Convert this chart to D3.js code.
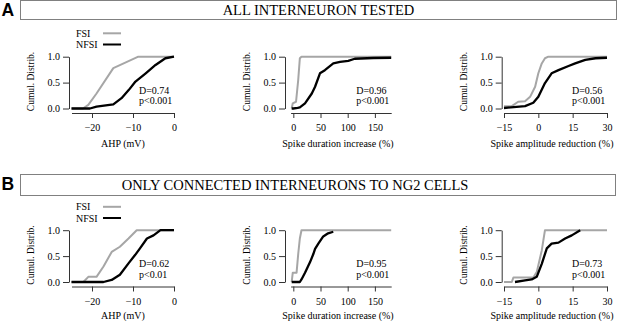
<!DOCTYPE html>
<html><head><meta charset="utf-8">
<script src="https://cdn.jsdelivr.net/npm/d3@7"></script>
<style>
html,body{margin:0;padding:0;background:#fff;}
svg{display:block;}
text{font-family:"Liberation Serif","Times New Roman",serif;}
</style></head>
<body><svg id="c" width="617" height="321"></svg>
<script>
// ---------- DATA ----------
const panelLetters = ["A", "B"];
const panelTitles = ["ALL INTERNEURON TESTED", "ONLY CONNECTED INTERNEURONS TO NG2 CELLS"];
const seriesNames = ["FSI", "NFSI"];
const xTitles = ["AHP (mV)", "Spike duration increase (%)", "Spike amplitude reduction (%)"];
const yTitle = "Cumul. Distrib.";
const xTicks1 = [-20, -10, 0];
const xTicks2 = [0, 50, 100, 150];
const xTicks3 = [-15, 0, 15, 30];
const yTicks = [0, 0.5, 1];

// Panel A
const A_ahp_fsi_x  = [-25, -22.2, -20.9, -18.9, -14.8, -8.7, 0];
const A_ahp_fsi_y  = [0, 0, 0.07, 0.29, 0.78, 1, 1];
const A_ahp_nfsi_x = [-25, -20.5, -18.9, -14.8, -12.8, -11, -9.4, -6.9, -4.5, -2.1, 0];
const A_ahp_nfsi_y = [0, 0, 0.035, 0.08, 0.2, 0.36, 0.52, 0.68, 0.84, 0.97, 1];
const A_dur_fsi_x  = [-3, -1, 5, 9, 12, 15, 180];
const A_dur_fsi_y  = [0, 0.1, 0.13, 0.55, 0.97, 1, 1];
const A_dur_nfsi_x = [-3, 0, 8, 12, 21.5, 34, 40, 49, 58, 73.5, 86, 101, 113, 147, 180];
const A_dur_nfsi_y = [0, 0, 0.01, 0.02, 0.1, 0.29, 0.42, 0.68, 0.74, 0.87, 0.9, 0.92, 0.96, 0.975, 0.98];
const A_amp_fsi_x  = [-15, -11.6, -8.8, -5.8, -3.6, -1.4, 0, 1.5, 2.9, 4.4, 30];
const A_amp_fsi_y  = [0.045, 0.045, 0.13, 0.14, 0.225, 0.42, 0.68, 0.87, 0.97, 1, 1];
const A_amp_nfsi_x = [-15, -5.8, -2.2, 0, 2.9, 5.8, 8.8, 13.2, 16.1, 20.5, 25, 30];
const A_amp_nfsi_y = [0.01, 0.045, 0.11, 0.225, 0.49, 0.68, 0.74, 0.82, 0.87, 0.94, 0.97, 0.98];
const A_stats = [["D=0.74", "p<0.001"], ["D=0.96", "p<0.001"], ["D=0.56", "p<0.001"]];

// Panel B
const B_ahp_fsi_x  = [-25, -22.1, -20.9, -18.9, -17.2, -15.2, -13.2, -11.1, -9.1, 0];
const B_ahp_fsi_y  = [0, 0, 0.1, 0.1, 0.3, 0.58, 0.68, 0.84, 1, 1];
const B_ahp_nfsi_x = [-25, -17.2, -15.2, -13.2, -11.1, -9.5, -8.3, -6.6, -5, -3.3, 0];
const B_ahp_nfsi_y = [0, 0, 0.04, 0.14, 0.36, 0.52, 0.65, 0.84, 0.9, 1, 1];
const B_dur_fsi_x  = [-3, -1, 6, 9, 12, 15, 180];
const B_dur_fsi_y  = [0, 0.18, 0.18, 0.54, 0.84, 1, 1];
const B_dur_nfsi_x = [-3, 12, 15, 21.5, 30.6, 36.8, 40, 46, 55, 64, 73.5];
const B_dur_nfsi_y = [0, 0, 0.05, 0.18, 0.38, 0.54, 0.64, 0.74, 0.88, 0.94, 0.97];
const B_amp_fsi_x  = [-15, -11.6, -10.9, -2.2, -0.7, 1.5, 2.9, 30];
const B_amp_fsi_y  = [0, 0, 0.085, 0.085, 0.19, 0.61, 1, 1];
const B_amp_nfsi_x = [-10.2, -5.8, -2.9, -0.7, 1.5, 3.7, 5.8, 8.8, 11.7, 14.6, 18.3];
const B_amp_nfsi_y = [0, 0.03, 0.05, 0.1, 0.35, 0.65, 0.74, 0.76, 0.84, 0.9, 1];
const B_stats = [["D=0.62", "p<0.01"], ["D=0.95", "p<0.001"], ["D=0.73", "p<0.001"]];

// ---------- LAYOUT ----------
const svg = d3.select("#c");
const SERIF = "'Liberation Serif','Times New Roman',serif";
const GRAY = "#a6a6a6", BLACK = "#000";
const chartCfg = [
  {xDomain: [-25, 0], xRange: [71.5, 174], ticks: xTicks1, yAxisX: 69, xTitleX: 123},
  {xDomain: [-5, 180], xRange: [290.6, 391.2], ticks: xTicks2, yAxisX: 285, xTitleX: 338},
  {xDomain: [-15, 30], xRange: [504, 607], ticks: xTicks3, yAxisX: 501.7, xTitleX: 552}
];
const panels = [
  {dy: 0, titleDy: 0, box: [20.5, 0.5, 596, 19], titleX: 318.5, titleY: 14.8, letterY: 15.5,
   series: [[A_ahp_fsi_x, A_ahp_fsi_y, A_ahp_nfsi_x, A_ahp_nfsi_y],
            [A_dur_fsi_x, A_dur_fsi_y, A_dur_nfsi_x, A_dur_nfsi_y],
            [A_amp_fsi_x, A_amp_fsi_y, A_amp_nfsi_x, A_amp_nfsi_y]], stats: A_stats},
  {dy: 173.5, titleDy: 171.7, box: [20.5, 174.5, 595, 21], titleX: 295, titleY: 189.8, letterY: 190,
   series: [[B_ahp_fsi_x, B_ahp_fsi_y, B_ahp_nfsi_x, B_ahp_nfsi_y],
            [B_dur_fsi_x, B_dur_fsi_y, B_dur_nfsi_x, B_dur_nfsi_y],
            [B_amp_fsi_x, B_amp_fsi_y, B_amp_nfsi_x, B_amp_nfsi_y]], stats: B_stats}
];

panels.forEach((p, pi) => {
  // header box
  svg.append("rect").attr("x", p.box[0]).attr("y", p.box[1]).attr("width", p.box[2]).attr("height", p.box[3])
    .attr("fill", "none").attr("stroke", "#808080").attr("stroke-width", 1);
  svg.append("text").attr("x", p.titleX).attr("y", p.titleY).attr("text-anchor", "middle")
    .attr("font-size", 14.5).attr("fill", "#000").style("font-family", SERIF).text(panelTitles[pi]);
  svg.append("text").attr("x", 1.5).attr("y", p.letterY)
    .style("font-family", "'Liberation Sans',Arial,sans-serif").attr("font-weight", "bold")
    .attr("font-size", 17.5).attr("fill", "#000").text(panelLetters[pi]);

  const dy = p.dy;
  const y = d3.scaleLinear().domain([0, 1]).range([108.5 + dy, 56.7 + dy]);

  chartCfg.forEach((c, ci) => {
    const x = d3.scaleLinear().domain(c.xDomain).range(c.xRange);
    const g = svg.append("g");
    // x axis
    const xa = g.append("g").attr("transform", `translate(0,${113 + dy})`)
      .call(d3.axisBottom(x).tickValues(c.ticks).tickSize(5).tickSizeOuter(0).tickPadding(6.2).tickFormat(d3.format("d")));
    // y axis
    const ya = g.append("g").attr("transform", `translate(${c.yAxisX},0)`)
      .call(d3.axisLeft(y).tickValues(yTicks).tickSize(6).tickSizeOuter(0).tickPadding(3).tickFormat(d3.format(".1f")));
    [xa, ya].forEach(a => {
      a.attr("font-family", null).style("font-family", SERIF);
      a.select(".domain").attr("stroke", "#333");
      a.selectAll(".tick line").attr("stroke", "#333");
      a.selectAll(".tick text").attr("font-size", 10).attr("fill", "#000").style("font-family", SERIF);
    });
    // titles
    g.append("text").attr("x", c.xTitleX).attr("y", 147.3 + p.titleDy).attr("text-anchor", "middle")
      .attr("font-size", 10).style("font-family", SERIF).text(xTitles[ci]);
    g.append("text").attr("transform", `translate(${c.yAxisX - 35},${81.5 + dy}) rotate(-90)`)
      .attr("text-anchor", "middle").attr("font-size", 9.5).style("font-family", SERIF).text(yTitle);

    // lines
    const s = p.series[ci];
    const line = d3.line().x(d => x(d[0])).y(d => y(d[1]));
    const fsi = d3.zip(s[0], s[1]);
    const nfsi = d3.zip(s[2], s[3]);
    g.append("path").attr("d", line(fsi)).attr("fill", "none").attr("stroke", GRAY)
      .attr("stroke-width", 2).attr("stroke-linejoin", "round");
    g.append("path").attr("d", line(nfsi)).attr("fill", "none").attr("stroke", BLACK)
      .attr("stroke-width", 2.3).attr("stroke-linejoin", "round");

    // stats
    const sx = c.xRange[1] - 35;
    g.append("text").attr("x", sx).attr("y", 93.8 + dy).attr("font-size", 10).style("font-family", SERIF).text(p.stats[ci][0]);
    g.append("text").attr("x", sx).attr("y", 104 + dy).attr("font-size", 10).style("font-family", SERIF).text(p.stats[ci][1]);

    // legend (first chart only)
    if (ci === 0) {
      const ly = [33.3 + dy, 44.5 + dy];
      const cols = [GRAY, BLACK];
      seriesNames.forEach((n, k) => {
        g.append("text").attr("x", 76).attr("y", ly[k] + 3.5).attr("font-size", 10).style("font-family", SERIF).text(n);
        g.append("line").attr("x1", 103).attr("x2", 121).attr("y1", ly[k]).attr("y2", ly[k])
          .attr("stroke", cols[k]).attr("stroke-width", 2);
      });
    }
  });
});
</script>
</body></html>
